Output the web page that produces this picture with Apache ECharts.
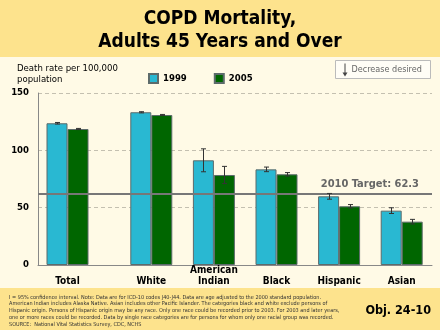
<!DOCTYPE html>
<html>
<head>
<meta charset="utf-8">
<script src="https://cdn.jsdelivr.net/npm/echarts@6/dist/echarts.min.js"></script>
<style>
  html, body { margin: 0; padding: 0; background: #FFFAE6; }
  #chart { width: 440px; height: 330px; }
</style>
</head>
<body>
<div id="chart"></div>
<script>
// COPD death rates per 100,000, adults 45+, by group
const categories = ['Total', 'White', 'American\nIndian', 'Black', 'Hispanic', 'Asian'];
const rate1999 = [123.6, 133.2, 91.3, 83.4, 59.9, 47.4];
const rate2005 = [118.6, 130.8, 78.5, 79.1, 51.2, 37.8];
// half-width of the 95% confidence interval
const ci1999 = [0.7, 0.5, 10.0, 2.0, 2.5, 2.5];
const ci2005 = [0.5, 0.5, 7.5, 1.5, 1.5, 2.0];
const yTicks = [0, 50, 100, 150];
const target2010 = 62.3;
const seriesNames = ['1999', '2005'];

const FONT = '"DejaVu Sans Condensed", "DejaVu Sans", sans-serif';
const CYAN = '#29B8D2';
const GREEN = '#006600';
const BAND = '#FDE38D';
const BAR_W = 21;

const chart = echarts.init(document.getElementById('chart'), null, { renderer: 'canvas' });

const yMin = yTicks[0], yMax = yTicks[yTicks.length - 1];
const yStep = yTicks[1] - yTicks[0];

function errorRows(from, to) {
  const rows = [];
  for (let i = from; i < to; i++) {
    rows.push([i - from, rate1999[i], ci1999[i], rate2005[i], ci2005[i]]);
  }
  return rows;
}

function renderErrors(params, api) {
  const idx = api.value(0);
  const children = [];
  const pairs = [[api.value(1), api.value(2), -BAR_W / 2], [api.value(3), api.value(4), BAR_W / 2]];
  pairs.forEach(([v, e, off]) => {
    const top = api.coord([idx, v + e]);
    const bot = api.coord([idx, v - e]);
    const x = Math.round(top[0] + off) + 0.5;
    const style = { stroke: '#333', lineWidth: 1 };
    children.push({ type: 'line', shape: { x1: x, y1: top[1], x2: x, y2: bot[1] }, style });
    children.push({ type: 'line', shape: { x1: x - 2.5, y1: top[1], x2: x + 2.5, y2: top[1] }, style });
    children.push({ type: 'line', shape: { x1: x - 2.5, y1: bot[1], x2: x + 2.5, y2: bot[1] }, style });
  });
  return { type: 'group', children };
}

const gridTop = 93, gridBottom = 65;

const hiddenY = (gi) => ({ type: 'value', gridIndex: gi, min: yMin, max: yMax, interval: yStep, show: false });

const catAxis = (gi, data) => ({
  type: 'category', gridIndex: gi, data,
  axisLine: { show: false }, axisTick: { show: false },
  axisLabel: {
    interval: 0, margin: 22, verticalAlign: 'bottom',
    fontFamily: FONT, fontWeight: 'bold', fontSize: 10, color: '#000', lineHeight: 11
  }
});

const barStyle = (color) => ({ color, borderColor: '#5d6b6b', borderWidth: 1 });

const option = {
  animation: false,
  backgroundColor: '#FFFAE6',
  title: [
    {
      text: 'COPD Mortality,\nAdults 45 Years and Over',
      left: 'center', top: 3,
      textStyle: { fontFamily: FONT, fontWeight: 'bold', fontSize: 19, lineHeight: 23, color: '#000' }
    },
    {
      text: 'Death rate per 100,000\npopulation',
      left: 12, top: 58,
      textStyle: { fontFamily: FONT, fontWeight: 'normal', fontSize: 9.5, lineHeight: 11, color: '#000' }
    },
    {
      text: 'I = 95% confidence interval. Note: Data are for ICD-10 codes J40-J44. Data are age adjusted to the 2000 standard population.\n' +
            'American Indian includes Alaska Native. Asian includes other Pacific Islander. The categories black and white exclude persons of\n' +
            'Hispanic origin. Persons of Hispanic origin may be any race. Only one race could be recorded prior to 2003. For 2003 and later years,\n' +
            'one or more races could be recorded. Data by single race categories are for persons for whom only one racial group was recorded.\n' +
            'SOURCE:  National Vital Statistics Survey, CDC, NCHS',
      left: 4, top: 289,
      textStyle: { fontFamily: FONT, fontWeight: 'normal', fontSize: 5.5, lineHeight: 6.7, color: '#333' }
    },
    {
      text: 'Obj. 24-10',
      right: 4, top: 299,
      textStyle: { fontFamily: FONT, fontWeight: 'bold', fontSize: 12.5, color: '#000' }
    }
  ],
  graphic: [
    { type: 'rect', z: -10, shape: { x: 0, y: 0, width: 440, height: 57 }, style: { fill: BAND } },
    { type: 'rect', z: -10, shape: { x: 0, y: 288, width: 440, height: 42 }, style: { fill: BAND } },
    {
      type: 'group', left: 335, top: 60,
      children: [
        { type: 'rect', shape: { x: 0, y: 0, width: 95, height: 18 }, style: { fill: '#FFFDF6', stroke: '#BBBBBB', lineWidth: 1 } },
        { type: 'line', shape: { x1: 9.5, y1: 3, x2: 9.5, y2: 14 }, style: { stroke: '#444', lineWidth: 1 } },
        { type: 'polygon', shape: { points: [[7, 12], [12, 12], [9.5, 16]] }, style: { fill: '#444' } },
        { type: 'text', x: 16, y: 9, style: { text: 'Decrease desired', fontFamily: FONT, fontSize: 9, fill: '#666', verticalAlign: 'middle' } }
      ]
    }
  ],
  legend: {
    data: seriesNames,
    left: 143, top: 68,
    itemWidth: 9, itemHeight: 9, itemGap: 27,
    icon: 'rect',
    textStyle: { fontFamily: FONT, fontWeight: 'bold', fontSize: 9.5, color: '#000' },
    selectedMode: false
  },
  grid: [
    // full-width frame: value axis, gridlines, baseline, target line
    { left: 38, right: 8, top: gridTop, bottom: gridBottom },
    // Total
    { left: 38, width: 59, top: gridTop, bottom: gridBottom },
    // race / ethnicity groups
    { left: 120, right: 7, top: gridTop, bottom: gridBottom }
  ],
  xAxis: [
    {
      type: 'category', gridIndex: 0, data: [''],
      axisLine: { lineStyle: { color: '#888', width: 1 } },
      axisTick: { show: false }, axisLabel: { show: false }
    },
    catAxis(1, categories.slice(0, 1)),
    catAxis(2, categories.slice(1))
  ],
  yAxis: [
    {
      type: 'value', gridIndex: 0, min: yMin, max: yMax, interval: yStep,
      axisLine: { show: true, lineStyle: { color: '#888', width: 1 } },
      axisTick: { show: false },
      axisLabel: { margin: 9, fontFamily: FONT, fontWeight: 'bold', fontSize: 9.5, color: '#000' },
      splitLine: { show: true, lineStyle: { color: '#C4C0B0', type: [4, 3], width: 1 } }
    },
    hiddenY(1),
    hiddenY(2)
  ],
  series: [
    {
      type: 'line', xAxisIndex: 0, yAxisIndex: 0, data: [], silent: true,
      markLine: {
        silent: true, symbol: 'none',
        lineStyle: { color: '#777', width: 2, type: 'solid' },
        label: {
          position: 'insideEndTop', distance: [13, 4],
          formatter: '2010 Target: ' + target2010,
          fontFamily: FONT, fontWeight: 'bold', fontSize: 11, color: '#666'
        },
        data: [{ yAxis: target2010 }]
      }
    },
    { name: seriesNames[0], type: 'bar', xAxisIndex: 1, yAxisIndex: 1, data: rate1999.slice(0, 1), barWidth: BAR_W, barGap: '0%', itemStyle: barStyle(CYAN) },
    { name: seriesNames[1], type: 'bar', xAxisIndex: 1, yAxisIndex: 1, data: rate2005.slice(0, 1), barWidth: BAR_W, barGap: '0%', itemStyle: barStyle(GREEN) },
    { name: seriesNames[0], type: 'bar', xAxisIndex: 2, yAxisIndex: 2, data: rate1999.slice(1), barWidth: BAR_W, barGap: '0%', itemStyle: barStyle(CYAN) },
    { name: seriesNames[1], type: 'bar', xAxisIndex: 2, yAxisIndex: 2, data: rate2005.slice(1), barWidth: BAR_W, barGap: '0%', itemStyle: barStyle(GREEN) },
    { type: 'custom', name: 'ci-total', xAxisIndex: 1, yAxisIndex: 1, data: errorRows(0, 1), renderItem: renderErrors, z: 5, silent: true },
    { type: 'custom', name: 'ci-groups', xAxisIndex: 2, yAxisIndex: 2, data: errorRows(1, categories.length), renderItem: renderErrors, z: 5, silent: true }
  ]
};

chart.setOption(option);
</script>
</body>
</html>
